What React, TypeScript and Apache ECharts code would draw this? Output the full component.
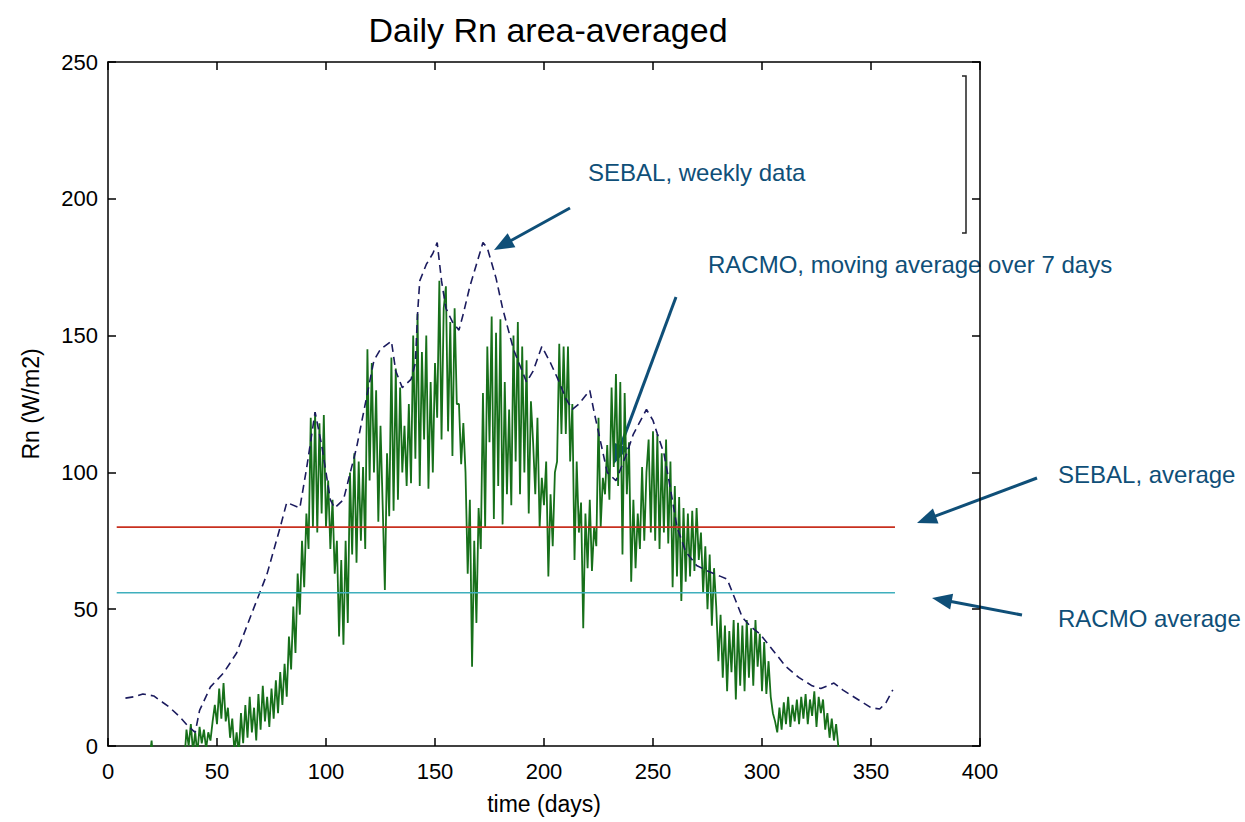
import React, { useEffect, useRef } from "react";
import * as echarts from "echarts";

// RACMO daily net radiation (W/m2), one value per day starting at day 1
const racmoStartDay = 1;
const racmoDaily: number[] = [
  // days 1-35
  -15, -25, -12, -22, -10, -20, -14, -24, -11, -19,
  -8, -18, -6, -16, -4, -14, -2, -12, -5, 2,
  -8, -4, -15, -8, -18, -6, -14, -4, -12, -3,
  -10, -1, -8, -2, -6,
  // days 36-48
  6, 0, 8, -2, 5, -3, 7, 1, 6, -1, 5, 2, 9,
  // days 49-58
  15, 8, 21, 10, 23, 9, 14, 3, 10, -2,
  // days 59-68
  5, -3, 12, 1, 15, 3, 18, 5, 14, 2,
  // days 69-82
  19, 6, 22, 9, 18, 7, 21, 10, 24, 12, 27, 15, 30, 18,
  // days 83-92
  40, 28, 51, 34, 63, 48, 75, 58, 85, 72,
  // days 93-100
  120, 80, 122, 78, 118, 85, 121, 80,
  // days 101-110
  97, 72, 90, 63, 75, 40, 68, 37, 75, 45,
  // days 111-118
  100, 70, 107, 67, 104, 75, 102, 72,
  // days 119-132
  145, 97, 140, 100, 130, 82, 117, 88, 57, 107, 84, 142, 86, 138,
  // days 133-139
  90, 131, 100, 117, 95, 125, 96,
  // days 140-150
  150, 105, 158, 95, 144, 112, 150, 94, 133, 100, 140,
  // days 151-160
  120, 170, 112, 160, 168, 115, 155, 106, 160, 125,
  // days 161-170
  125, 103, 118, 100, 63, 90, 29, 75, 45, 87,
  // days 171-180
  72, 129, 80, 146, 111, 157, 83, 151, 95, 156,
  // days 181-190
  81, 133, 92, 123, 88, 150, 104, 155, 92, 146,
  // days 191-200
  100, 141, 85, 126, 111, 92, 120, 80, 98, 88,
  // days 201-212
  104, 62, 92, 73, 100, 104, 147, 114, 146, 114, 146, 104,
  // days 213-224
  125, 68, 104, 78, 89, 43, 85, 65, 90, 64, 80, 73,
  // days 225-235
  120, 80, 98, 92, 110, 90, 131, 102, 136, 95, 133,
  // days 236-247
  70, 129, 92, 111, 60, 90, 65, 85, 72, 102, 75, 100,
  // days 248-256
  112, 78, 115, 75, 114, 72, 107, 78, 112,
  // days 257-271
  74, 104, 58, 95, 62, 91, 53, 87, 60, 85, 62, 86, 64, 87, 68,
  // days 272-285
  78, 56, 73, 50, 70, 44, 65, 51, 31, 48, 25, 44, 20, 42,
  // days 286-300
  27, 46, 17, 45, 22, 44, 20, 46, 25, 43, 22, 46, 29, 41, 20,
  // days 301-314
  38, 19, 31, 18, 12, 9, 5, 14, 6, 16, 8, 18, 7, 15,
  // days 315-328
  9, 17, 8, 18, 10, 19, 8, 17, 11, 20, 7, 18, 12, 17,
  // days 329-340
  6, 12, 3, 10, 2, 8, 0, -6, -3, -12, -8, -15,
];

// SEBAL weekly data
const sebalDays: number[] = [
  8, 12, 16, 21, 25, 28, 33, 37, 40, 42,
  47, 53, 59, 66, 73, 79, 82, 88, 91, 95,
  98, 102, 104, 108, 114, 119, 122, 125, 130, 132,
  135, 139, 141, 142, 143, 146, 149, 151, 153, 155,
  158, 161, 163, 166, 169, 172, 174, 178, 181, 184,
  186, 189, 192, 195, 199, 203, 207, 210, 213, 216,
  221, 223, 226, 229, 233, 238, 241, 247, 250, 252,
  255, 258, 261, 265, 270, 275, 281, 284, 288, 291,
  295, 299, 304, 311, 317, 323, 327, 330, 333, 337,
  344, 350, 354, 357, 360,
];
const sebalValues: number[] = [
  17.5, 18, 19, 18.3, 16, 14.3, 10.6, 7, 5, 13,
  21.6, 26.7, 34, 48.6, 63, 80, 89, 87, 101, 122,
  110, 90, 87, 90, 109, 129, 141, 145, 148, 137,
  131, 134, 140, 158, 170, 176, 180, 184, 170, 160,
  155, 152, 158, 168, 176, 184, 182, 171, 160, 151,
  145, 139, 133, 137, 146, 140, 133, 127, 123, 125,
  130, 122, 111, 100, 97, 107, 114, 123, 119, 114,
  107, 94, 80, 71, 66, 64, 62, 61, 53, 47,
  43.5, 41, 36, 29, 25, 22, 21, 22, 23, 20.5,
  17, 14, 13.5, 16, 20.5,
];

// Averages
const averageSpan: number[] = [4, 361];
const sebalAverage = 80;
const racmoAverage = 56;

// Axis ticks
const xTicks = { min: 0, max: 400, interval: 50 };
const yTicks = { min: 0, max: 250, interval: 50 };

const titleText = "Daily Rn area-averaged";
const xName = "time (days)";
const yName = "Rn (W/m2)";

const annotations = [
  { text: "SEBAL, weekly data", x: 588, y: 174, from: [570, 208], to: [494, 250] },
  { text: "RACMO, moving average over 7 days", x: 708, y: 266, from: [676, 297], to: [614, 464] },
  { text: "SEBAL, average", x: 1058, y: 476, from: [1037, 478], to: [917, 523] },
  { text: "RACMO average", x: 1058, y: 620, from: [1022, 615], to: [932, 598] },
];

const ANN = "#0f4f78";
const FONT = "'Liberation Sans', Arial, sans-serif";

function arrow(from: number[], to: number[]) {
  const [x1, y1] = from;
  const [x2, y2] = to;
  const dx = x2 - x1;
  const dy = y2 - y1;
  const len = Math.hypot(dx, dy);
  const ux = dx / len;
  const uy = dy / len;
  const hl = 20;
  const hw = 8;
  const bx = x2 - ux * hl;
  const by = y2 - uy * hl;
  const px = -uy;
  const py = ux;
  return [
    {
      type: "line",
      shape: { x1, y1, x2: bx + ux * 2, y2: by + uy * 2 },
      style: { stroke: ANN, lineWidth: 3 },
    },
    {
      type: "polygon",
      shape: {
        points: [
          [x2, y2],
          [bx + px * hw, by + py * hw],
          [bx - px * hw, by - py * hw],
        ],
      },
      style: { fill: ANN },
    },
  ];
}

export default function App() {
  const ref = useRef<HTMLDivElement>(null);

  useEffect(() => {
    if (!ref.current) return;
    const chart = echarts.init(ref.current, undefined, { renderer: "svg" });

    const racmoData = racmoDaily.map((v, i) => [racmoStartDay + i, v]);
    const sebalData = sebalDays.map((d, i) => [d, sebalValues[i]]);

    const axisLine = { show: true, onZero: false, lineStyle: { color: "#000", width: 1.5 } };
    const axisTick = { show: true, inside: true, length: 8, lineStyle: { color: "#000", width: 1.5 } };
    const labelStyle = { color: "#000", fontSize: 22, fontFamily: FONT };
    const nameStyle = { color: "#000", fontSize: 23, fontFamily: FONT };

    const graphics: any[] = [];
    annotations.forEach((a) => {
      graphics.push({
        type: "text",
        left: a.x,
        top: a.y - 14,
        style: { text: a.text, fill: ANN, fontSize: 24, fontFamily: FONT },
      });
      graphics.push(...arrow(a.from, a.to));
    });
    // leftover bracket at the top-right of the frame
    graphics.push({
      type: "polyline",
      shape: { points: [[962, 76], [966, 76], [966, 233], [962, 233]] },
      style: { stroke: "#222", lineWidth: 1.5, fill: null },
    });

    chart.setOption({
      animation: false,
      backgroundColor: "#fff",
      title: {
        text: titleText,
        left: 543,
        top: 8,
        textAlign: "center",
        textStyle: { color: "#000", fontSize: 34, fontWeight: "normal", fontFamily: FONT },
      },
      grid: { left: 108, top: 62, width: 872, height: 684, containLabel: false, show: false },
      xAxis: [
        {
          type: "value",
          position: "bottom",
          ...xTicks,
          axisLine,
          axisTick,
          axisLabel: { ...labelStyle, margin: 14 },
          splitLine: { show: false },
          name: xName,
          nameLocation: "middle",
          nameGap: 46,
          nameTextStyle: nameStyle,
        },
        {
          type: "value",
          position: "top",
          ...xTicks,
          axisLine,
          axisTick,
          axisLabel: { show: false },
          splitLine: { show: false },
        },
      ],
      yAxis: [
        {
          type: "value",
          position: "left",
          ...yTicks,
          axisLine,
          axisTick,
          axisLabel: { ...labelStyle, margin: 10 },
          splitLine: { show: false },
          name: yName,
          nameLocation: "middle",
          nameGap: 66,
          nameTextStyle: nameStyle,
        },
        {
          type: "value",
          position: "right",
          ...yTicks,
          axisLine,
          axisTick,
          axisLabel: { show: false },
          splitLine: { show: false },
        },
      ],
      series: [
        {
          name: "RACMO",
          type: "line",
          data: racmoData,
          showSymbol: false,
          symbol: "none",
          clip: true,
          lineStyle: { color: "#17701a", width: 1.8 },
          z: 2,
        },
        {
          name: "SEBAL",
          type: "line",
          data: sebalData,
          showSymbol: false,
          symbol: "none",
          clip: true,
          lineStyle: { color: "#1b1b5e", width: 1.6, type: [8, 5] },
          z: 3,
        },
        {
          name: "SEBAL average",
          type: "line",
          data: averageSpan.map((d) => [d, sebalAverage]),
          showSymbol: false,
          symbol: "none",
          lineStyle: { color: "#c8301f", width: 1.6 },
          z: 4,
        },
        {
          name: "RACMO average",
          type: "line",
          data: averageSpan.map((d) => [d, racmoAverage]),
          showSymbol: false,
          symbol: "none",
          lineStyle: { color: "#3fafbd", width: 1.6 },
          z: 4,
        },
      ],
      graphic: graphics,
    });

    return () => chart.dispose();
  }, []);

  return (
    <div
      ref={ref}
      style={{ position: "fixed", left: 0, top: 0, width: 1245, height: 822, background: "#fff" }}
    />
  );
}
